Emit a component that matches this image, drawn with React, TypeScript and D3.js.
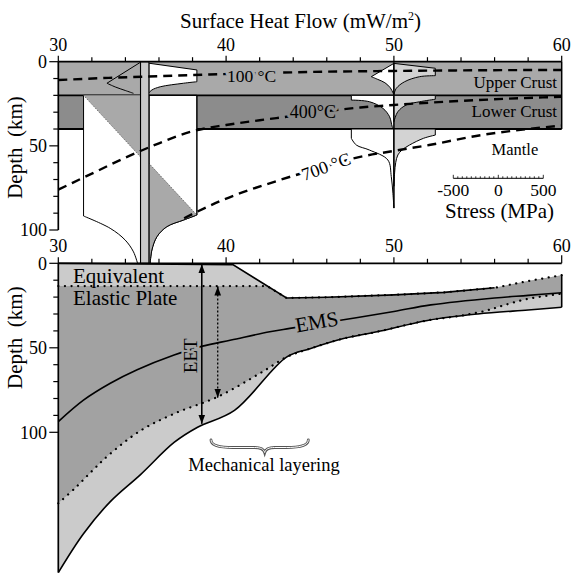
import * as d3 from "d3";
import React from "react";

type Pt = [number, number];
type Shape = { edge: Pt[]; tail: Pt[] };

// axis ticks
const hfMajor = [30, 40, 50, 60];
const hfMinor = d3.range(30, 61, 2);
const depthMajor = [0, 50, 100];
const depthMinor = d3.range(0, 101, 10);
const stressMajor = [-500, 0, 500];
const stressMinor = d3.range(-500, 501, 50);

// crustal layers (km)
const upperCrust = [0, 20];
const lowerCrust = [20, 40];

// isotherms [heat flow, depth km]
const iso100: Pt[] = [[30, 10.9], [33, 9.6], [36, 8.6], [39, 7.6], [42, 6.8], [45, 6.1], [50, 5.5], [55, 5.1], [60, 4.9]];
const iso400: Pt[] = [[30, 76], [32, 66.5], [34, 57], [36, 48.5], [38, 41.3], [40, 37.6], [42, 34.8], [44, 32.2], [46, 29.4], [48, 27.2], [50, 25.7], [55, 22.8], [60, 20.8]];
const iso700: Pt[] = [[37.5, 93], [39.6, 83], [43.2, 70.3], [46, 62], [47.6, 57.4], [50, 53], [52.1, 49.5], [55.2, 43.6], [58, 40], [60, 38]];

// strength envelope at 35 mW/m2, [stress MPa, depth km]
const env35Axis = [34.9, 35.4];
const env35Bottom = 119.8;
const env35UpperLeft: Shape = { edge: [[0, 0.3], [-373, 12.8]], tail: [[-373, 12.8], [-281, 15], [-170, 17.1], [-78, 18.8]] };
const env35UpperRight: Shape = { edge: [[0, 0.9], [533, 4.9], [533, 11.9]], tail: [[533, 11.9], [384, 12.8], [126, 14.9], [33, 16.8], [0, 18.5]] };
const env35LowerLeft: Shape = { edge: [[0, 119.8], [0, 20], [-633, 20], [-633, 91.7]], tail: [[-633, 91.7], [-337, 99], [-170, 106], [-78, 113], [-33, 119.8]] };
const env35LowerRight: Shape = { edge: [[0, 119.8], [0, 20], [533, 20], [533, 91.1]], tail: [[533, 91.1], [384, 94.1], [200, 98], [89, 104], [33, 111.9], [14, 119.8]] };
const env35BrittleLeft: Shape = { edge: [[-633, 20], [0, 20], [0, 56.6]], tail: [] };
const env35BrittleRight: Shape = { edge: [[0, 119.8], [0, 60.4], [533, 91.1]], tail: [[533, 91.1], [384, 94.1], [200, 98], [89, 104], [33, 111.9], [14, 119.8]] };

// strength envelope at 50 mW/m2
const env50Axis = 50;
const env50AxisDepth = [0, 87];
const env50UpperLeft: Shape = { edge: [[0, 1], [-251, 8.9]], tail: [[-251, 8.9], [-180, 10.5], [-100, 12.5], [-40, 15.5], [-10, 18.5], [0, 19.5]] };
const env50UpperRight: Shape = { edge: [[0, 1], [460, 3.9], [460, 8.3]], tail: [[460, 8.3], [286, 8.9], [119, 11.9], [27, 15.8], [0, 19.4]] };
const env50LowerLeft: Shape = { edge: [[0, 20], [-473, 20], [-473, 22.8]], tail: [[-473, 22.8], [-270, 23.8], [-122, 27.7], [-48, 32.7], [-18, 38.6], [0, 40]] };
const env50LowerRight: Shape = { edge: [[0, 20], [460, 20], [460, 22.3]], tail: [[460, 22.3], [286, 23.8], [138, 25.7], [44, 29.7], [0, 35.6]] };
const env50MantleLeft: Shape = { edge: [[0, 40], [-473, 40], [-473, 45.5]], tail: [[-473, 45.5], [-418, 49.5], [-271, 52.5], [-67, 58.4], [-29, 68.3], [-11, 78.2], [0, 87]] };
const env50MantleRight: Shape = { edge: [[0, 40], [460, 40], [460, 43.6]], tail: [[460, 43.6], [330, 45.5], [174, 49.5], [90, 52.5], [44, 55.4], [20, 60], [8, 66], [0, 74]] };

// lower panel [heat flow, depth km]
const mechTop: Pt[] = [[30, 0], [40.4, 0.8], [43.6, 20.5], [46, 20.1], [50, 18.7], [53, 17.2], [56, 14.5]];
const mechBottom: Pt[] = [[30, 183], [31.5, 160], [33.1, 141], [34.9, 125], [36.9, 106], [38.3, 97], [40.5, 87], [43.6, 55.5], [45, 50.5], [47, 44.5], [49, 40.5], [52, 33.8], [55, 30], [58, 27.6], [60, 26]];
const elasticTop: Pt[] = [[30, 13.5], [42.45, 13.5], [43.6, 20.5], [46, 20.1], [50, 18.7], [53, 17.2], [56, 14.5], [58, 10.5], [60, 7]];
const elasticBottom: Pt[] = [[30, 142], [31, 133], [32, 123], [33, 113.5], [34.9, 99], [36.9, 89], [39.5, 79], [42.2, 64], [43.6, 55.5], [45, 50.5], [47, 44.5], [49, 40.5], [52, 33.8], [54, 31], [55.5, 28], [56.5, 25], [58, 21], [60, 18]];
const ems: Pt[] = [[30, 93.7], [31.5, 81], [33.1, 71], [34.7, 63], [36.9, 54.3], [38.6, 49], [40.3, 45.4], [42.6, 40.5], [43.8, 38.5], [47, 33.4], [50, 28.5], [52.2, 24.6], [56, 20.5], [58, 19], [60, 17.4]];
const eetArrow = { hf: 38.55, top: 0.5, bottom: 95 };
const elasticArrow = { hf: 39.5, top: 13.8, bottom: 79.5 };

const font = "'Liberation Serif', 'Times New Roman', Times, 'Nimbus Roman', 'DejaVu Serif', serif";
const cUpper = "#a9a9a9";
const cLower = "#8c8c8c";
const cLight = "#cbcbcb";
const cDark = "#a2a2a2";
const cPale = "#d3d3d3";

export default function App() {
  const width = 571;
  const height = 576;

  const x = d3.scaleLinear().domain([30, 60]).range([58.3, 561.7]);
  const yT = d3.scaleLinear().domain([0, 100]).range([61.7, 230]);
  const yB = d3.scaleLinear().domain([0, 100]).range([263.3, 432.3]);
  const sBar = d3.scaleLinear().domain([-500, 500]).range([453.3, 543.3]);
  const sOff = (s: number) => sBar(s) - sBar(0);

  const lin = d3.line();
  const smooth = d3.line().curve(d3.curveCatmullRom.alpha(0.5));
  const join = (a: string, b: string) => a + b.replace(/^M/, "L");

  const envPath = (hf: number, shape: Shape, close = true) => {
    const pt = ([s, d]: Pt): Pt => [x(hf) + sOff(s), yT(d)];
    let p = lin(shape.edge.map(pt)) as string;
    if (shape.tail.length > 1) p = join(p, smooth(shape.tail.map(pt)) as string);
    return close ? p + "Z" : p;
  };

  const top = (arr: Pt[]) => arr.map(([h, d]): Pt => [x(h), yT(d)]);
  const bot = (arr: Pt[]) => arr.map(([h, d]): Pt => [x(h), yB(d)]);

  const isoLine = d3.line().curve(d3.curveMonotoneX);

  const mechEdge = [...mechTop, ...elasticTop.filter((d) => d[0] > 56)];
  const regionMech = join(lin(bot(mechEdge)) as string, smooth(bot([...mechBottom].reverse())) as string) + "Z";
  const regionElastic = join(lin(bot(elasticTop)) as string, smooth(bot([...elasticBottom].reverse())) as string) + "Z";

  const textBase = { style: { fontFamily: font }, fill: "#000" };

  // curly brace under the layered part
  const bx0 = x(39.1), bx1 = x(44.9), bm = x(42.3);
  const brace = `M${bx0},440 C${bx0},446 ${bx0 + 10},447.5 ${bx0 + 22},447.5 L${bm - 10},447.5 C${bm - 4},447.5 ${bm - 1},449 ${bm},452.5 C${bm + 1},449 ${bm + 4},447.5 ${bm + 10},447.5 L${bx1 - 22},447.5 C${bx1 - 10},447.5 ${bx1},446 ${bx1},440`;

  return (
    <svg width={width} height={height} style={{ position: "absolute", left: 0, top: 0, background: "#fff", fontFamily: font }}>
      <defs>
        <marker id="ah" viewBox="0 0 10 10" refX="10" refY="5" markerWidth="9" markerHeight="9" markerUnits="userSpaceOnUse" orient="auto-start-reverse">
          <path d="M0,1.3 L10,5 L0,8.7 Z" fill="#000" />
        </marker>
      </defs>

      {/* ---------- upper panel ---------- */}
      <rect x={x(30)} width={x(60) - x(30)} y={yT(upperCrust[0])} height={yT(upperCrust[1]) - yT(upperCrust[0])} fill={cUpper} />
      <rect x={x(30)} width={x(60) - x(30)} y={yT(lowerCrust[0])} height={yT(lowerCrust[1]) - yT(lowerCrust[0])} fill={cLower} />
      <line x1={x(30)} x2={x(60)} y1={yT(20)} y2={yT(20)} stroke="#000" strokeWidth={1.8} />
      <line x1={x(30)} x2={x(60)} y1={yT(40)} y2={yT(40)} stroke="#000" strokeWidth={1.8} />
      <line x1={x(60)} x2={x(60)} y1={yT(0)} y2={yT(40)} stroke="#000" strokeWidth={1.5} />

      {/* envelope at 35 */}
      <path d={envPath(env35Axis[0], env35LowerLeft)} fill="#fff" stroke="#000" strokeWidth={1} />
      <path d={envPath(env35Axis[1], env35LowerRight)} fill="#fff" stroke="#000" strokeWidth={1} />
      <path d={envPath(env35Axis[1], env35UpperRight)} fill="#fff" stroke="#000" strokeWidth={1} />
      <path d={envPath(env35Axis[0], env35BrittleLeft)} fill={cUpper} />
      <path d={envPath(env35Axis[1], env35BrittleRight)} fill={cUpper} />
      <path d={envPath(env35Axis[0], { edge: [env35BrittleLeft.edge[0], env35BrittleLeft.edge[2]], tail: [] }, false)} fill="none" stroke="#333" strokeWidth={0.8} strokeDasharray="1,1.5" />
      <path d={envPath(env35Axis[1], { edge: [env35BrittleRight.edge[1], env35BrittleRight.edge[2]], tail: [] }, false)} fill="none" stroke="#333" strokeWidth={0.8} strokeDasharray="1,1.5" />
      <path d={envPath(env35Axis[1], env35LowerRight, false)} fill="none" stroke="#000" strokeWidth={1} />
      <path d={envPath(env35Axis[0], env35UpperLeft, false)} fill="none" stroke="#000" strokeWidth={1} />
      <rect x={x(env35Axis[0])} width={x(env35Axis[1]) - x(env35Axis[0])} y={yT(0)} height={yT(env35Bottom) - yT(0)} fill="#c9c9c9" stroke="#000" strokeWidth={1.1} />

      {/* envelope at 50 */}
      <path d={envPath(env50Axis, env50UpperLeft)} fill="#fff" stroke="#000" strokeWidth={1} />
      <path d={envPath(env50Axis, env50UpperRight)} fill={cPale} stroke="#000" strokeWidth={1} />
      <path d={envPath(env50Axis, env50LowerLeft)} fill="#fff" stroke="#000" strokeWidth={1} />
      <path d={envPath(env50Axis, env50LowerRight)} fill={cPale} stroke="#000" strokeWidth={1} />
      <path d={envPath(env50Axis, env50MantleLeft)} fill="#fff" stroke="#000" strokeWidth={1} />
      <path d={envPath(env50Axis, env50MantleRight)} fill={cPale} stroke="#000" strokeWidth={1} />
      <line x1={x(env50Axis)} x2={x(env50Axis)} y1={yT(env50AxisDepth[0])} y2={yT(env50AxisDepth[1])} stroke="#000" strokeWidth={1.2} />

      {/* isotherms */}
      {[iso100, iso400, iso700].map((iso, i) => (
        <path key={i} d={isoLine(top(iso)) as string} fill="none" stroke="#000" strokeWidth={2.4} strokeDasharray="9,6" />
      ))}
      <text {...textBase} x={x(40.05)} y={82} fontSize={17.5} stroke={cUpper} strokeWidth={6} paintOrder="stroke" strokeLinejoin="round">100 °C</text>
      <text {...textBase} x={x(43.8)} y={117.5} fontSize={18} stroke={cLower} strokeWidth={6} paintOrder="stroke" strokeLinejoin="round">400°C</text>
      <text {...textBase} x={0} y={0} fontSize={18} textAnchor="middle" dy="0.35em" stroke="#fff" strokeWidth={6} paintOrder="stroke" strokeLinejoin="round" transform={`translate(${x(45.95)},${yT(62.2)}) rotate(-20)`}>700 °C</text>

      <text {...textBase} x={557} y={88} fontSize={17} textAnchor="end">Upper Crust</text>
      <text {...textBase} x={557} y={117} fontSize={17} textAnchor="end">Lower Crust</text>
      <text {...textBase} x={491.5} y={155} fontSize={16.5}>Mantle</text>

      {/* stress scale */}
      <line x1={sBar(-500)} x2={sBar(500)} y1={178.3} y2={178.3} stroke="#000" strokeWidth={1} />
      {stressMinor.map((s) => (
        <line key={s} x1={sBar(s)} x2={sBar(s)} y1={178.3} y2={178.3 - (stressMajor.includes(s) ? 3.5 : 2)} stroke="#000" strokeWidth={0.8} />
      ))}
      {stressMajor.map((s) => (
        <text key={s} {...textBase} x={sBar(s)} y={195.5} fontSize={17.5} textAnchor="middle">{s}</text>
      ))}
      <text {...textBase} x={499.5} y={218} fontSize={21} textAnchor="middle">Stress (MPa)</text>

      {/* upper axes */}
      <line x1={x(30)} x2={x(60)} y1={yT(0)} y2={yT(0)} stroke="#000" strokeWidth={1.7} />
      {hfMinor.map((v) => (
        <line key={v} x1={x(v)} x2={x(v)} y1={yT(0)} y2={yT(0) - (hfMajor.includes(v) ? 6 : 4.5)} stroke="#000" strokeWidth={1.2} />
      ))}
      {hfMajor.map((v) => (
        <text key={v} {...textBase} x={x(v)} y={51} fontSize={18} textAnchor="middle">{v}</text>
      ))}
      <line x1={x(30)} x2={x(30)} y1={yT(0)} y2={yT(100)} stroke="#000" strokeWidth={1.7} />
      {depthMinor.map((v) => (
        <line key={v} x1={x(30)} x2={x(30) - (depthMajor.includes(v) ? 9 : 5)} y1={yT(v)} y2={yT(v)} stroke="#000" strokeWidth={1.2} />
      ))}
      {depthMajor.map((v) => (
        <text key={v} {...textBase} x={47} y={yT(v)} dy="0.35em" fontSize={18} textAnchor="end">{v}</text>
      ))}
      <text {...textBase} x={width / 2 + 15} y={28} fontSize={21} textAnchor="middle">
        Surface Heat Flow (mW/m<tspan fontSize={12} dy={-8}>2</tspan><tspan dy={8}>)</tspan>
      </text>
      <text {...textBase} fontSize={21} textAnchor="middle" transform={`translate(22,${yT(51)}) rotate(-90)`}>Depth{"\u00a0\u00a0"}(km)</text>

      {/* ---------- lower panel ---------- */}
      <path d={regionMech} fill={cLight} />
      <path d={regionElastic} fill={cDark} />
      <path d={lin(bot(elasticTop)) as string} fill="none" stroke="#000" strokeWidth={2.2} strokeDasharray="0.1,6.5" strokeLinecap="round" />
      <path d={smooth(bot(elasticBottom)) as string} fill="none" stroke="#000" strokeWidth={2.2} strokeDasharray="0.1,6.5" strokeLinecap="round" />
      <path d={lin(bot(mechTop)) as string} fill="none" stroke="#000" strokeWidth={1.6} />
      <path d={smooth(bot(mechBottom)) as string} fill="none" stroke="#000" strokeWidth={1.6} />
      <line x1={x(30)} x2={x(30)} y1={yB(0)} y2={yB(mechBottom[0][1])} stroke="#000" strokeWidth={1.7} />
      <line x1={x(60)} x2={x(60)} y1={yB(elasticTop[elasticTop.length - 1][1])} y2={yB(mechBottom[mechBottom.length - 1][1])} stroke="#000" strokeWidth={1.6} />
      <path d={smooth(bot(ems)) as string} fill="none" stroke="#000" strokeWidth={1.6} />

      {/* arrows */}
      <line x1={x(eetArrow.hf)} x2={x(eetArrow.hf)} y1={yB(eetArrow.top)} y2={yB(eetArrow.bottom)} stroke="#000" strokeWidth={1.6} markerStart="url(#ah)" markerEnd="url(#ah)" />
      <line x1={x(elasticArrow.hf)} x2={x(elasticArrow.hf)} y1={yB(elasticArrow.top)} y2={yB(elasticArrow.bottom) - 3} stroke="#000" strokeWidth={1.3} strokeDasharray="2,2" />
      <line x1={x(elasticArrow.hf)} x2={x(elasticArrow.hf)} y1={yB(elasticArrow.bottom) - 8} y2={yB(elasticArrow.bottom)} stroke="#000" strokeWidth={1.3} markerEnd="url(#ah)" />
      <line x1={x(elasticArrow.hf)} x2={x(elasticArrow.hf)} y1={yB(elasticArrow.top) + 8} y2={yB(elasticArrow.top)} stroke="#000" strokeWidth={1.3} markerEnd="url(#ah)" />

      {/* labels */}
      <text {...textBase} x={73} y={283.3} fontSize={21}>Equivalent</text>
      <text {...textBase} x={73} y={305} fontSize={21}>Elastic Plate</text>
      <text {...textBase} fontSize={19} textAnchor="middle" dy="0.35em" stroke={cDark} strokeWidth={5} paintOrder="stroke" transform={`translate(${x(37.85)},${yB(54.8)}) rotate(-90)`}>EET</text>
      <text {...textBase} fontSize={21} textAnchor="middle" dy="0.35em" stroke={cDark} strokeWidth={6} paintOrder="stroke" transform={`translate(${x(45.4)},${yB(34.5)}) rotate(-10)`}>EMS</text>
      <path d={brace} fill="none" stroke="#555" strokeWidth={2.8} strokeLinecap="round" />
      <path d={brace} fill="none" stroke="#fff" strokeWidth={1} strokeLinecap="round" />
      <text {...textBase} x={264} y={471} fontSize={18.5} textAnchor="middle">Mechanical layering</text>

      {/* lower axes */}
      <line x1={x(30)} x2={x(60)} y1={yB(0)} y2={yB(0)} stroke="#000" strokeWidth={1.7} />
      {hfMinor.map((v) => (
        <line key={v} x1={x(v)} x2={x(v)} y1={yB(0)} y2={yB(0) - (v === 60 ? 8 : hfMajor.includes(v) ? 6 : 4.5)} stroke="#000" strokeWidth={1.2} />
      ))}
      {hfMajor.map((v) => (
        <text key={v} {...textBase} x={x(v)} y={252} fontSize={18} textAnchor="middle">{v}</text>
      ))}
      {depthMinor.map((v) => (
        <line key={v} x1={x(30)} x2={x(30) - (depthMajor.includes(v) ? 9 : 5)} y1={yB(v)} y2={yB(v)} stroke="#000" strokeWidth={1.2} />
      ))}
      {depthMajor.map((v) => (
        <text key={v} {...textBase} x={47} y={yB(v)} dy="0.35em" fontSize={18} textAnchor="end">{v}</text>
      ))}
      <text {...textBase} fontSize={21} textAnchor="middle" transform={`translate(22,${yB(44)}) rotate(-90)`}>Depth{"\u00a0\u00a0"}(km)</text>
    </svg>
  );
}
